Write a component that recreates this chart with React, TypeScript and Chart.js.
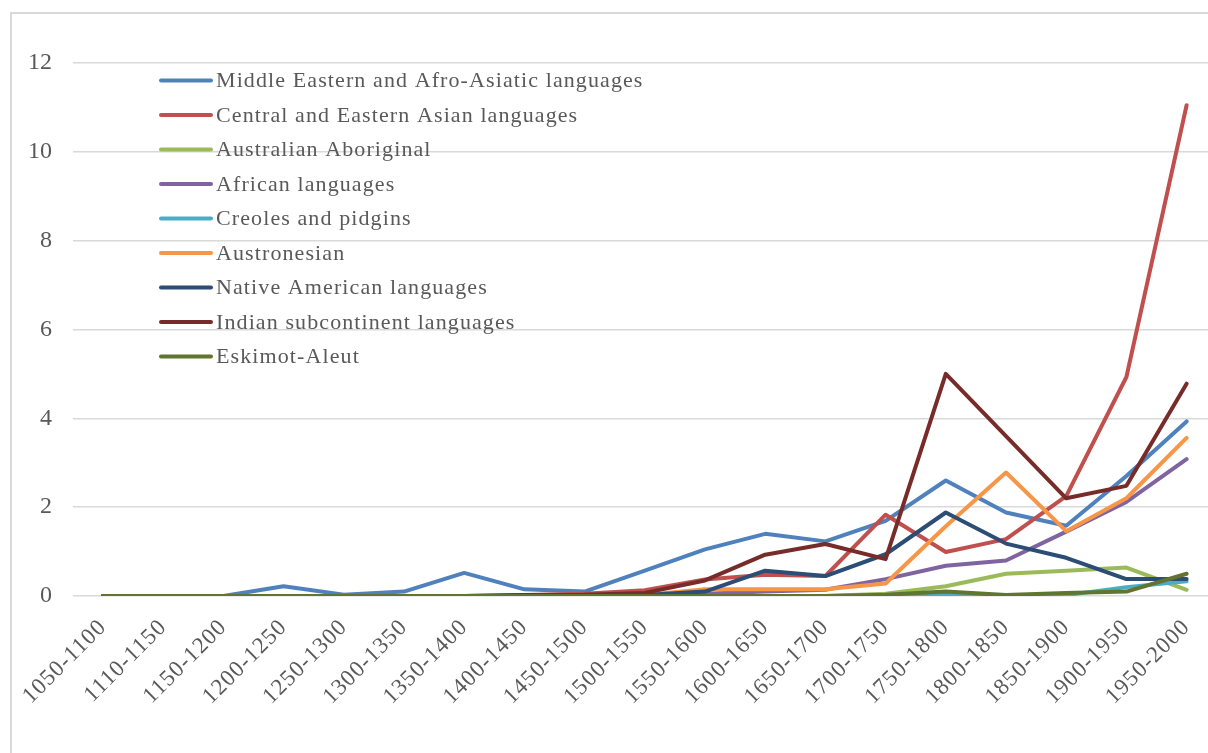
import React, { useEffect, useRef } from "react";
import { Chart, registerables } from "chart.js";

Chart.register(...registerables);

const categories = [
  "1050-1100", "1110-1150", "1150-1200", "1200-1250", "1250-1300",
  "1300-1350", "1350-1400", "1400-1450", "1450-1500", "1500-1550",
  "1550-1600", "1600-1650", "1650-1700", "1700-1750", "1750-1800",
  "1800-1850", "1850-1900", "1900-1950", "1950-2000",
];

const middleEastern = [0, 0, 0, 0.22, 0.03, 0.1, 0.52, 0.15, 0.1, 0.57, 1.05, 1.4, 1.23, 1.69, 2.6, 1.88, 1.58, 2.7, 3.93];
const centralEasternAsian = [0, 0, 0, 0, 0, 0, 0, 0.02, 0.05, 0.13, 0.37, 0.48, 0.45, 1.83, 0.99, 1.28, 2.25, 4.93, 11.05];
const australianAboriginal = [0, 0, 0, 0, 0, 0, 0, 0, 0, 0, 0, 0, 0, 0.05, 0.22, 0.5, 0.57, 0.64, 0.14];
const african = [0, 0, 0, 0, 0, 0, 0, 0, 0, 0.02, 0.05, 0.1, 0.14, 0.38, 0.68, 0.8, 1.45, 2.12, 3.08];
const creoles = [0, 0, 0, 0, 0, 0, 0, 0, 0, 0, 0, 0, 0, 0, 0.03, 0.01, 0.02, 0.2, 0.33];
const austronesian = [0, 0, 0, 0, 0, 0, 0, 0, 0, 0.02, 0.15, 0.15, 0.15, 0.28, 1.57, 2.78, 1.46, 2.2, 3.56];
const nativeAmerican = [0, 0, 0, 0, 0, 0, 0, 0, 0, 0.02, 0.1, 0.57, 0.45, 0.94, 1.88, 1.18, 0.86, 0.38, 0.38];
const indianSubcontinent = [0, 0, 0, 0, 0, 0, 0, 0.02, 0.03, 0.07, 0.35, 0.93, 1.17, 0.83, 5.0, 3.6, 2.2, 2.48, 4.78];
const eskimoAleut = [0, 0, 0, 0, 0, 0, 0, 0, 0, 0, 0, 0, 0, 0.03, 0.1, 0.02, 0.07, 0.1, 0.5];

const seriesNames = [
  "Middle Eastern and Afro-Asiatic languages",
  "Central and Eastern Asian languages",
  "Australian Aboriginal",
  "African languages",
  "Creoles and pidgins",
  "Austronesian",
  "Native American languages",
  "Indian subcontinent languages",
  "Eskimot-Aleut",
];

const seriesColors = [
  "#4F81BD", "#C0504D", "#9BBB59", "#8064A2", "#4BACC6",
  "#F79646", "#2C4D75", "#772C2A", "#5F7530",
];

const yTicks = [0, 2, 4, 6, 8, 10, 12];

const FONT = '"Liberation Serif", "Times New Roman", serif';
const TEXT_COLOR = "#595959";

export default function App() {
  const ref = useRef<HTMLCanvasElement>(null);

  useEffect(() => {
    document.body.style.margin = "0";
    document.body.style.overflow = "hidden";
    const canvas = ref.current;
    if (!canvas) return;
    const seriesValues = [
      middleEastern, centralEasternAsian, australianAboriginal, african, creoles,
      austronesian, nativeAmerican, indianSubcontinent, eskimoAleut,
    ];

    const insideLegend = {
      id: "insideLegend",
      beforeDraw(chart: any) {
        const xs = chart.scales.x;
        if (xs && !xs._lsPatched) {
          const orig = xs.drawLabels.bind(xs);
          xs.drawLabels = (area: any) => {
            const c = chart.ctx as any;
            const prev = c.letterSpacing;
            c.letterSpacing = "1px";
            orig(area);
            c.letterSpacing = prev;
          };
          xs._lsPatched = true;
        }
      },
      afterDraw(chart: any) {
        const ctx = chart.ctx as CanvasRenderingContext2D;
        ctx.save();
        (ctx as any).letterSpacing = "1.1px";
        ctx.font = `22px ${FONT}`;
        ctx.textBaseline = "middle";
        ctx.textAlign = "left";
        chart.data.datasets.forEach((ds: any, i: number) => {
          const y = 80.5 + 34.5 * i;
          ctx.strokeStyle = ds.borderColor;
          ctx.lineWidth = 4;
          ctx.lineCap = "round";
          ctx.beginPath();
          ctx.moveTo(161, y);
          ctx.lineTo(211, y);
          ctx.stroke();
          ctx.fillStyle = TEXT_COLOR;
          ctx.fillText(ds.label, 216, y + 1);
        });
        ctx.restore();
      },
    };

    const chart = new Chart(canvas, {
      type: "line",
      data: {
        labels: categories,
        datasets: seriesNames.map((name, i) => ({
          label: name,
          data: seriesValues[i],
          borderColor: seriesColors[i],
          backgroundColor: seriesColors[i],
          borderWidth: 4,
          pointRadius: 0,
          pointHoverRadius: 0,
          tension: 0,
          fill: false,
          borderJoinStyle: "round" as const,
          borderCapStyle: "round" as const,
          order: seriesNames.length - i,
        })),
      },
      options: {
        responsive: false,
        animation: false,
        devicePixelRatio: 1,
        layout: { padding: { top: 63, right: 13.3, left: 0, bottom: 0 } },
        plugins: {
          legend: { display: false },
          tooltip: { enabled: false },
        },
        scales: {
          x: {
            offset: true,
            grid: { display: false, drawTicks: false },
            border: { display: false },
            ticks: {
              autoSkip: false,
              minRotation: 45,
              maxRotation: 45,
              padding: 18,
              color: TEXT_COLOR,
              font: { family: FONT, size: 23 },
            },
            afterFit: (s: any) => {
              s.height = 157;
            },
          },
          y: {
            min: 0,
            max: 12,
            afterBuildTicks: (s: any) => {
              s.ticks = yTicks.map((v) => ({ value: v }));
            },
            ticks: {
              padding: 21,
              color: TEXT_COLOR,
              font: { family: FONT, size: 24 },
            },
            grid: { color: "#d9d9d9", lineWidth: 1.5, drawTicks: false },
            border: { display: false },
            afterFit: (s: any) => {
              s.width = 72.9;
            },
          },
        },
      },
      plugins: [insideLegend],
    });

    return () => {
      chart.destroy();
    };
  }, []);

  return (
    <div
      style={{
        position: "relative",
        width: 1208,
        height: 753,
        overflow: "hidden",
        background: "#ffffff",
      }}
    >
      <div
        style={{
          position: "absolute",
          left: 10,
          top: 12,
          width: 1400,
          height: 1000,
          border: "2px solid #d9d9d9",
          boxSizing: "border-box",
        }}
      />
      <canvas
        ref={ref}
        width={1230}
        height={753}
        style={{ position: "absolute", left: 0, top: 0, width: 1230, height: 753 }}
      />
    </div>
  );
}
